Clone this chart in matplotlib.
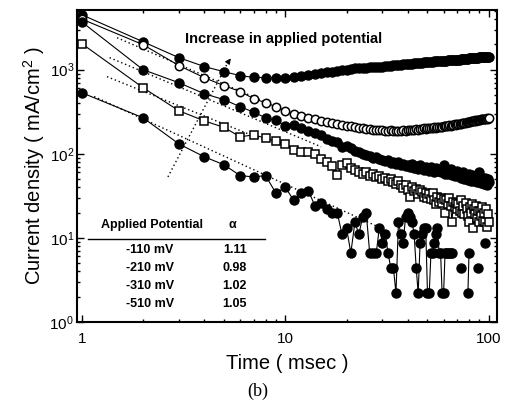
import numpy as np
import matplotlib
matplotlib.use("Agg")
import matplotlib.pyplot as plt
from matplotlib.ticker import LogLocator, FixedLocator, FixedFormatter, NullFormatter

plt.rcParams["font.family"] = ["Liberation Sans", "DejaVu Sans"]
plt.rcParams["mathtext.fontset"] = "custom"
plt.rcParams["mathtext.rm"] = "Liberation Sans"
plt.rcParams["mathtext.it"] = "Liberation Sans:italic"
plt.rcParams["mathtext.bf"] = "Liberation Sans:bold"

nan = np.nan
time_ms = list(range(1, 101))

# top curve, no fit
j_top = [4500, 2150, 1390, 1090, 946, 850, 810, 805, 800, 805,
         826, 849, 870, 890, 910, 930, 950, 970, 990, 1005,
         1020, 1035, 1040, 1050, 1060, 1065, 1070, 1080, 1085, 1090,
         1100, 1110, 1115, 1125, 1130, 1140, 1150, 1155, 1160, 1170,
         1175, 1180, 1190, 1195, 1200, 1210, 1215, 1220, 1230, 1240,
         1240, 1245, 1250, 1255, 1260, 1265, 1270, 1270, 1275, 1280,
         1280, 1285, 1290, 1290, 1295, 1300, 1300, 1305, 1305, 1310,
         1315, 1320, 1325, 1330, 1335, 1340, 1345, 1350, 1355, 1360,
         1365, 1370, 1375, 1380, 1385, 1390, 1390, 1395, 1395, 1400,
         1405, 1405, 1410, 1410, 1415, 1420, 1420, 1425, 1425, 1430]
# -510 mV (open circles)
j_510 = [4000, 1985, 1120, 803, 646, 550, 452, 405, 363, 326,
         299, 278, 268, 258, 248, 240, 232, 226, 222, 216,
         212, 208, 205, 200, 198, 196, 194, 192, 191, 190,
         188, 186, 190, 184, 187, 189, 186, 190, 188, 192,
         190, 194, 191, 196, 193, 198, 195, 200, 197, 202,
         200, 204, 201, 206, 203, 208, 206, 210, 208, 212,
         211, 215, 213, 218, 216, 220, 218, 223, 221, 226,
         224, 229, 227, 232, 230, 235, 233, 238, 236, 241,
         240, 244, 242, 247, 245, 250, 248, 252, 251, 255,
         253, 257, 256, 260, 258, 262, 260, 264, 262, 266]
# -310 mV (filled circles)
j_310 = [3700, 1000, 700, 518, 440, 363, 312, 268, 250, 215,
         221, 203, 185, 178, 168, 150, 140, 138, 121, 125,
         118, 108, 104, 100, 96, 94, 90, 92, 86, 84,
         82, 85, 78, 80, 76, 79, 73, 76, 71, 74,
         70, 76, 68, 72, 66, 73, 70, 64, 69, 67,
         63, 70, 65, 61, 68, 62, 66, 60, 64, 74,
         58, 63, 57, 62, 66, 56, 60, 55, 59, 63,
         54, 58, 52, 57, 61, 50, 55, 53, 49, 57,
         52, 48, 56, 51, 47, 54, 50, 46, 53, 61,
         49, 45, 52, 48, 44, 51, 47, 43, 50, 46]
# -210 mV (open squares)
j_210 = [2040, 611, 325, 246, 206, 159, 168, 153, 140, 130,
         111, 106, 104, 100, 86, 80, 72, 56, 74, 78,
         68, 64, 61, 58, 60, 55, 57, 53, 54, 50,
         52, 47, 50, 46, 44, 48, 42, 39, 43, 37,
         31, 40, 36, 38, 33, 37, 35, 31, 34, 30,
         33, 29, 34, 28, 25, 31, 27, 30, 26, 29,
         20, 28, 25, 30, 24, 15.5, 27, 23, 26, 22,
         25, 21, 28, 20, 24, 19, 26, 22, 18, 15.5,
         23, 20, 25, 13, 22, 19, 24, 17, 21, 15.5,
         21, 18, 23, 16, 20, 15.5, 22, 13.5, 19, 15.5]
# -110 mV (filled circles, bottom); nan = zero reading
j_110 = [532, 268, 131, 92, 74, 55, 53, 55, 34, 40,
         28, 34, 36, 24, 26, 22, 20, 20, 11, 13.2,
         6.6, 15.4, 11, 17.6, 19.8, 6.6, 6.6, 6.6, 13.2, 8.8,
         11, 6.6, 4.4, 4.4, 2.2, 15.4, 11, 8.8, 17.6, 19.8,
         17.6, 15.4, 11, 4.4, 2.2, 8.8, 11, 13.2, 13.2, 2.2,
         2.2, 6.6, 6.6, 8.8, 11, 13.2, 6.6, 6.6, 2.2, 2.2,
         6.6, 6.6, 6.6, 6.6, 6.6, 6.6, nan, nan, nan, nan,
         nan, nan, 4.4, nan, nan, nan, nan, nan, 2.2, 6.6,
         nan, nan, nan, nan, nan, nan, nan, nan, 4.4, nan,
         nan, nan, nan, nan, nan, 8.8, nan, nan, nan, nan]

# power-law fits J = A * t^-alpha
potentials = ["-110 mV", "-210 mV", "-310 mV", "-510 mV"]
alphas = [1.11, 0.98, 1.02, 1.05]
fit_amp = [560, 1093, 1917, 3650]
fit_t0 = [1.15, 1.33, 1.37, 1.49]
fit_t1 = [30, 8, 15, 13]

fig = plt.figure(figsize=(5.12, 4.08), dpi=100)
ax = fig.add_axes([0.150, 0.211, 0.821, 0.764])

for a, al, t0, t1 in zip(fit_amp, alphas, fit_t0, fit_t1):
    t = np.geomspace(t0, t1, 50)
    ax.plot(t, a * t ** (-al), color="k", lw=1.0, ls=(0, (1, 2)), zorder=2)

line_kw = dict(color="k", lw=0.8, zorder=3)
ax.plot(time_ms, j_top, marker="o", ms=6.5, mfc="k", mec="k", **line_kw)
ax.plot(time_ms, j_510, marker="o", ms=6, mfc="white", mec="k", mew=1.1, **line_kw)
ax.plot(time_ms, j_310, marker="o", ms=6.5, mfc="k", mec="k", **line_kw)
ax.plot(time_ms, j_210, marker="s", ms=5.5, mfc="white", mec="k", mew=1.1, **line_kw)
ax.plot(time_ms, j_110, marker="o", ms=6.5, mfc="k", mec="k", **line_kw)

# "increase" arrow (dotted shaft, solid head)
ax.plot([2.65, 5.3], [53, 1300], color="k", lw=1.0, ls=(0, (1, 2)))
ax.annotate("", xy=(5.5, 1450), xytext=(5.2, 1200),
            arrowprops=dict(arrowstyle="-|>", color="k", lw=0.8,
                            mutation_scale=8))
ax.text(3.2, 2300, "Increase in applied potential", fontsize=10.5,
        fontweight="bold", va="center", ha="left")

# alpha table
tkw = dict(transform=ax.transAxes, fontsize=9, fontweight="bold",
           va="center", ha="center")
ax.text(0.179, 0.311, "Applied Potential", **tkw)
ax.text(0.371, 0.311, "α", **tkw)
ax.plot([0.026, 0.448], [0.266, 0.266], color="k", lw=1.0,
        transform=ax.transAxes)
for i, (p, al) in enumerate(zip(potentials, alphas)):
    yy = 0.231 - i * 0.0577
    ax.text(0.174, yy, p, **tkw)
    ax.text(0.376, yy, f"{al:.2f}", **tkw)

ax.set_xscale("log")
ax.set_yscale("log")
ax.set_xlim(0.945, 110)
ax.set_ylim(1, 5100)

ax.xaxis.set_major_locator(FixedLocator([1, 10, 100]))
ax.xaxis.set_major_formatter(FixedFormatter(["1", "10", "100"]))
ax.xaxis.set_minor_locator(LogLocator(base=10, subs=np.arange(2, 10)))
ax.xaxis.set_minor_formatter(NullFormatter())
ax.yaxis.set_major_locator(LogLocator(base=10, numticks=10))
ax.yaxis.set_minor_locator(LogLocator(base=10, subs=np.arange(2, 10), numticks=10))
ax.yaxis.set_minor_formatter(NullFormatter())

ax.tick_params(which="both", direction="in", top=True, right=True, width=1.0)
ax.tick_params(which="major", length=5, labelsize=11)
ax.tick_params(which="minor", length=2.5)
ax.tick_params(axis="x", pad=7)
ax.tick_params(axis="y", pad=2)
for s in ax.spines.values():
    s.set_linewidth(1.5)

ax.set_xlabel("Time ( msec )", fontsize=14.5, labelpad=6)
ax.set_ylabel("Current density ( mA/cm$^2$ )", fontsize=14.5, labelpad=2)
fig.text(258 / 512, 1 - 391 / 408, "(b)", fontsize=13,
         family=["Liberation Serif", "DejaVu Serif"], ha="center", va="center")

fig.savefig("out.png", dpi=100)
